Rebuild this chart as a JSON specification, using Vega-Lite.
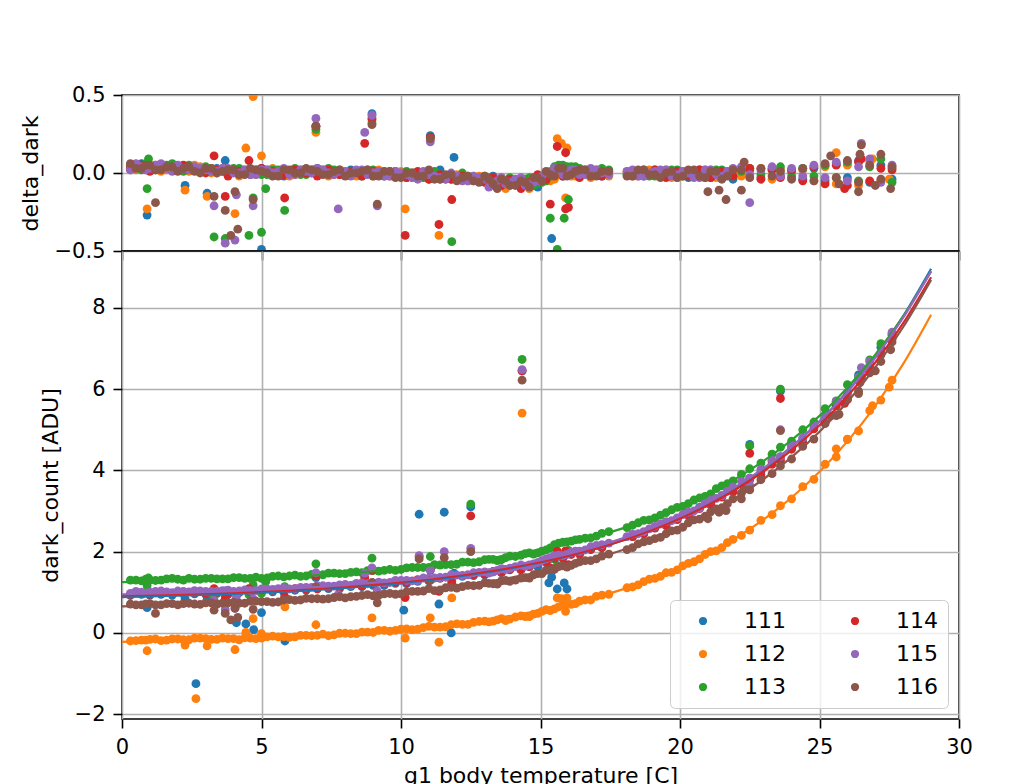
{
"$schema": "https://vega.github.io/schema/vega-lite/v6.json",
"background": "white",
"padding": {"left": 18, "top": 83, "right": 10, "bottom": 0},
"datasets": {
"pts": [
{"s":"111","t":0.3,"d":0.92,"r":0.04},{"s":"111","t":0.7,"d":0.95,"r":0.06},{"s":"111","t":1.0,"d":0.93,"r":0.03},{"s":"111","t":1.4,"d":0.95,"r":0.05},{"s":"111","t":1.8,"d":0.93,"r":0.02},{"s":"111","t":2.2,"d":0.96,"r":0.04},{"s":"111","t":2.6,"d":0.96,"r":0.03},{"s":"111","t":3.0,"d":0.95,"r":0.01},{"s":"111","t":3.4,"d":0.97,"r":0.03},{"s":"111","t":3.8,"d":0.95,"r":0.0},{"s":"111","t":4.2,"d":0.99,"r":0.02},{"s":"111","t":4.6,"d":0.97,"r":-0.01},{"s":"111","t":5.0,"d":1.02,"r":0.03},{"s":"111","t":5.4,"d":1.01,"r":0.01},{"s":"111","t":5.8,"d":1.0,"r":-0.02},{"s":"111","t":6.2,"d":1.05,"r":0.02},{"s":"111","t":6.6,"d":1.05,"r":0.0},{"s":"111","t":7.0,"d":1.09,"r":0.03},{"s":"111","t":7.4,"d":1.09,"r":0.01},{"s":"111","t":7.8,"d":1.09,"r":-0.01},{"s":"111","t":8.2,"d":1.14,"r":0.02},{"s":"111","t":8.6,"d":1.14,"r":0.0},{"s":"111","t":9.0,"d":1.17,"r":0.01},{"s":"111","t":9.4,"d":1.17,"r":-0.02},{"s":"111","t":9.8,"d":1.22,"r":0.01},{"s":"111","t":10.2,"d":1.21,"r":-0.03},{"s":"111","t":10.6,"d":1.27,"r":0.0},{"s":"111","t":11.0,"d":1.28,"r":-0.02},{"s":"111","t":11.4,"d":1.35,"r":0.02},{"s":"111","t":11.8,"d":1.33,"r":-0.04},{"s":"111","t":12.2,"d":1.39,"r":-0.01},{"s":"111","t":12.6,"d":1.41,"r":-0.03},{"s":"111","t":13.0,"d":1.43,"r":-0.05},{"s":"111","t":13.3,"d":1.5,"r":-0.02},{"s":"111","t":13.6,"d":1.48,"r":-0.07},{"s":"111","t":13.9,"d":1.55,"r":-0.04},{"s":"111","t":14.3,"d":1.56,"r":-0.08},{"s":"111","t":14.6,"d":1.63,"r":-0.05},{"s":"111","t":14.9,"d":1.63,"r":-0.09},{"s":"111","t":15.2,"d":1.73,"r":-0.03},{"s":"111","t":15.5,"d":1.82,"r":0.01},{"s":"111","t":15.8,"d":1.84,"r":-0.02},{"s":"111","t":16.1,"d":1.94,"r":0.03},{"s":"111","t":16.4,"d":1.95,"r":-0.01},{"s":"111","t":16.8,"d":2.06,"r":0.02},{"s":"111","t":17.2,"d":2.1,"r":-0.02},{"s":"111","t":18.3,"d":2.37,"r":0.01},{"s":"111","t":18.7,"d":2.44,"r":-0.02},{"s":"111","t":19.1,"d":2.59,"r":0.02},{"s":"111","t":19.5,"d":2.67,"r":-0.01},{"s":"111","t":19.9,"d":2.8,"r":0.0},{"s":"111","t":20.3,"d":2.9,"r":-0.03},{"s":"111","t":20.7,"d":3.09,"r":0.02},{"s":"111","t":21.1,"d":3.19,"r":-0.02},{"s":"111","t":21.5,"d":3.38,"r":0.01},{"s":"111","t":21.9,"d":3.49,"r":-0.04},{"s":"111","t":22.5,"d":3.81,"r":0.02},{"s":"111","t":22.9,"d":3.96,"r":-0.03},{"s":"111","t":23.3,"d":4.22,"r":0.03},{"s":"111","t":23.6,"d":4.33,"r":-0.02},{"s":"111","t":24.0,"d":4.58,"r":0.01},{"s":"111","t":24.4,"d":4.77,"r":-0.04},{"s":"111","t":24.8,"d":5.1,"r":0.03},{"s":"111","t":25.2,"d":5.29,"r":-0.05},{"s":"111","t":25.6,"d":5.69,"r":0.06},{"s":"111","t":26.0,"d":5.91,"r":-0.03},{"s":"111","t":26.4,"d":6.35,"r":0.08},{"s":"111","t":26.8,"d":6.56,"r":-0.06},{"s":"111","t":27.2,"d":7.03,"r":0.05},{"s":"111","t":27.6,"d":7.34,"r":-0.04},
{"s":"111","t":0.9,"d":0.62,"r":-0.27},{"s":"111","t":2.26,"d":0.84,"r":-0.08},{"s":"111","t":2.65,"d":-1.25,"r":-2.18},{"s":"111","t":3.05,"d":0.81,"r":-0.13},{"s":"111","t":3.7,"d":1.03,"r":0.08},{"s":"111","t":4.1,"d":0.25,"r":-0.72},{"s":"111","t":4.44,"d":0.22,"r":-0.75},{"s":"111","t":4.72,"d":0.08,"r":-0.9},{"s":"111","t":5.0,"d":0.5,"r":-0.49},{"s":"111","t":5.84,"d":-0.2,"r":-1.22},{"s":"111","t":6.95,"d":1.36,"r":0.3},{"s":"111","t":8.96,"d":1.54,"r":0.38},{"s":"111","t":10.1,"d":0.56,"r":-0.68},{"s":"111","t":10.65,"d":2.92,"r":1.65},{"s":"111","t":11.05,"d":1.54,"r":0.24},{"s":"111","t":11.36,"d":0.71,"r":-0.62},{"s":"111","t":11.55,"d":2.97,"r":1.62},{"s":"111","t":11.8,"d":0.0,"r":-1.36},{"s":"111","t":11.9,"d":1.47,"r":0.1},{"s":"111","t":12.5,"d":3.1,"r":1.68},{"s":"111","t":14.34,"d":6.45,"r":4.8},{"s":"111","t":15.3,"d":1.23,"r":-0.55},{"s":"111","t":15.4,"d":1.37,"r":-0.42},{"s":"111","t":15.6,"d":1.08,"r":-0.76},{"s":"111","t":15.85,"d":1.23,"r":-0.63},{"s":"111","t":15.95,"d":1.08,"r":-0.8},{"s":"111","t":22.5,"d":4.64,"r":0.85},{"s":"111","t":23.6,"d":5.95,"r":1.6},
{"s":"112","t":0.3,"d":-0.2,"r":0.02},{"s":"112","t":0.7,"d":-0.18,"r":0.03},{"s":"112","t":1.0,"d":-0.16,"r":0.05},{"s":"112","t":1.4,"d":-0.19,"r":0.01},{"s":"112","t":1.8,"d":-0.15,"r":0.04},{"s":"112","t":2.2,"d":-0.17,"r":0.02},{"s":"112","t":2.6,"d":-0.13,"r":0.05},{"s":"112","t":3.0,"d":-0.14,"r":0.03},{"s":"112","t":3.4,"d":-0.16,"r":0.0},{"s":"112","t":3.8,"d":-0.14,"r":0.02},{"s":"112","t":4.2,"d":-0.17,"r":-0.02},{"s":"112","t":4.6,"d":-0.13,"r":0.01},{"s":"112","t":5.0,"d":-0.13,"r":0.0},{"s":"112","t":5.4,"d":-0.08,"r":0.03},{"s":"112","t":5.8,"d":-0.09,"r":0.01},{"s":"112","t":6.2,"d":-0.1,"r":-0.01},{"s":"112","t":6.6,"d":-0.06,"r":0.02},{"s":"112","t":7.0,"d":-0.06,"r":0.0},{"s":"112","t":7.4,"d":-0.07,"r":-0.02},{"s":"112","t":7.8,"d":-0.01,"r":0.02},{"s":"112","t":8.2,"d":-0.02,"r":-0.01},{"s":"112","t":8.6,"d":0.02,"r":0.01},{"s":"112","t":9.0,"d":0.01,"r":-0.02},{"s":"112","t":9.4,"d":0.06,"r":0.01},{"s":"112","t":9.8,"d":0.06,"r":-0.01},{"s":"112","t":10.2,"d":0.1,"r":0.0},{"s":"112","t":10.6,"d":0.09,"r":-0.03},{"s":"112","t":11.0,"d":0.16,"r":0.01},{"s":"112","t":11.4,"d":0.14,"r":-0.04},{"s":"112","t":11.8,"d":0.2,"r":-0.01},{"s":"112","t":12.2,"d":0.21,"r":-0.04},{"s":"112","t":12.6,"d":0.26,"r":-0.02},{"s":"112","t":13.0,"d":0.29,"r":-0.03},{"s":"112","t":13.3,"d":0.29,"r":-0.06},{"s":"112","t":13.6,"d":0.35,"r":-0.03},{"s":"112","t":13.9,"d":0.34,"r":-0.08},{"s":"112","t":14.3,"d":0.42,"r":-0.04},{"s":"112","t":14.6,"d":0.4,"r":-0.1},{"s":"112","t":14.9,"d":0.48,"r":-0.06},{"s":"112","t":15.2,"d":0.57,"r":-0.01},{"s":"112","t":15.5,"d":0.59,"r":-0.04},{"s":"112","t":15.8,"d":0.69,"r":0.02},{"s":"112","t":16.1,"d":0.7,"r":-0.02},{"s":"112","t":16.4,"d":0.78,"r":0.01},{"s":"112","t":16.8,"d":0.81,"r":-0.03},{"s":"112","t":17.2,"d":0.93,"r":0.01},{"s":"112","t":18.3,"d":1.13,"r":-0.02},{"s":"112","t":18.7,"d":1.26,"r":0.01},{"s":"112","t":19.1,"d":1.34,"r":-0.01},{"s":"112","t":19.5,"d":1.48,"r":0.02},{"s":"112","t":19.9,"d":1.55,"r":-0.03},{"s":"112","t":20.3,"d":1.71,"r":0.01},{"s":"112","t":20.7,"d":1.82,"r":-0.02},{"s":"112","t":21.1,"d":2.0,"r":0.02},{"s":"112","t":21.5,"d":2.1,"r":-0.03},{"s":"112","t":21.9,"d":2.3,"r":0.01},{"s":"112","t":22.5,"d":2.53,"r":-0.02},{"s":"112","t":22.9,"d":2.77,"r":0.03},{"s":"112","t":23.3,"d":2.91,"r":-0.04},{"s":"112","t":23.6,"d":3.13,"r":0.02},{"s":"112","t":24.0,"d":3.3,"r":-0.03},{"s":"112","t":24.4,"d":3.6,"r":0.02},{"s":"112","t":24.8,"d":3.78,"r":-0.05},{"s":"112","t":25.2,"d":4.15,"r":0.04},{"s":"112","t":25.6,"d":4.33,"r":-0.07},{"s":"112","t":26.0,"d":4.76,"r":0.05},{"s":"112","t":26.4,"d":4.97,"r":-0.08},{"s":"112","t":26.8,"d":5.47,"r":0.07},{"s":"112","t":27.2,"d":5.73,"r":-0.05},{"s":"112","t":27.6,"d":6.22,"r":0.03},
{"s":"112","t":0.5,"d":-0.19,"r":0.02},{"s":"112","t":0.85,"d":-0.18,"r":0.03},{"s":"112","t":1.2,"d":-0.15,"r":0.05},{"s":"112","t":1.6,"d":-0.18,"r":0.02},{"s":"112","t":2.0,"d":-0.15,"r":0.04},{"s":"112","t":2.4,"d":-0.17,"r":0.01},{"s":"112","t":2.8,"d":-0.13,"r":0.04},{"s":"112","t":3.2,"d":-0.16,"r":0.0},{"s":"112","t":3.6,"d":-0.13,"r":0.03},{"s":"112","t":4.0,"d":-0.14,"r":0.01},{"s":"112","t":4.4,"d":-0.12,"r":0.02},{"s":"112","t":4.8,"d":-0.14,"r":-0.01},{"s":"112","t":5.2,"d":-0.1,"r":0.02},{"s":"112","t":5.6,"d":-0.1,"r":0.0},{"s":"112","t":6.0,"d":-0.11,"r":-0.02},{"s":"112","t":6.4,"d":-0.06,"r":0.02},{"s":"112","t":6.8,"d":-0.07,"r":0.0},{"s":"112","t":7.2,"d":-0.03,"r":0.02},{"s":"112","t":7.6,"d":-0.05,"r":-0.01},{"s":"112","t":8.0,"d":-0.01,"r":0.01},{"s":"112","t":8.4,"d":-0.02,"r":-0.02},{"s":"112","t":8.8,"d":0.02,"r":0.0},{"s":"112","t":9.2,"d":0.06,"r":0.02},{"s":"112","t":9.6,"d":0.04,"r":-0.02},{"s":"112","t":10.0,"d":0.09,"r":0.01},{"s":"112","t":10.4,"d":0.08,"r":-0.03},{"s":"112","t":10.8,"d":0.13,"r":0.0},{"s":"112","t":11.2,"d":0.14,"r":-0.02},{"s":"112","t":11.6,"d":0.15,"r":-0.04},{"s":"112","t":12.0,"d":0.22,"r":-0.01},{"s":"112","t":12.4,"d":0.21,"r":-0.05},{"s":"112","t":12.8,"d":0.28,"r":-0.02},{"s":"112","t":13.15,"d":0.27,"r":-0.06},{"s":"112","t":13.45,"d":0.32,"r":-0.04},{"s":"112","t":13.75,"d":0.3,"r":-0.1},{"s":"112","t":14.1,"d":0.39,"r":-0.05},{"s":"112","t":14.45,"d":0.4,"r":-0.08},{"s":"112","t":14.75,"d":0.46,"r":-0.06},{"s":"112","t":15.05,"d":0.53,"r":-0.03},{"s":"112","t":15.35,"d":0.55,"r":-0.05},{"s":"112","t":15.65,"d":0.64,"r":-0.01},{"s":"112","t":15.95,"d":0.72,"r":0.03},{"s":"112","t":16.25,"d":0.72,"r":-0.02},{"s":"112","t":16.6,"d":0.81,"r":0.01},{"s":"112","t":17.0,"d":0.9,"r":0.02},{"s":"112","t":17.45,"d":0.95,"r":-0.02},{"s":"112","t":18.1,"d":1.11,"r":0.01},{"s":"112","t":18.5,"d":1.18,"r":-0.02},{"s":"112","t":18.9,"d":1.32,"r":0.02},{"s":"112","t":19.3,"d":1.39,"r":-0.01},{"s":"112","t":19.7,"d":1.49,"r":-0.03},{"s":"112","t":20.1,"d":1.65,"r":0.01},{"s":"112","t":20.5,"d":1.75,"r":-0.02},{"s":"112","t":20.9,"d":1.93,"r":0.02},{"s":"112","t":21.3,"d":2.02,"r":-0.03},{"s":"112","t":21.7,"d":2.22,"r":0.01},{"s":"112","t":22.2,"d":2.4,"r":-0.02},
{"s":"112","t":0.9,"d":-0.44,"r":-0.23},{"s":"112","t":2.26,"d":-0.3,"r":-0.11},{"s":"112","t":2.65,"d":-1.62,"r":-1.44},{"s":"112","t":3.05,"d":-0.32,"r":-0.15},{"s":"112","t":4.05,"d":-0.41,"r":-0.26},{"s":"112","t":4.44,"d":0.01,"r":0.16},{"s":"112","t":4.7,"d":0.35,"r":0.49},{"s":"112","t":5.0,"d":-0.02,"r":0.11},{"s":"112","t":5.84,"d":0.64,"r":0.74},{"s":"112","t":6.95,"d":0.2,"r":0.26},{"s":"112","t":8.96,"d":0.37,"r":0.34},{"s":"112","t":10.15,"d":-0.13,"r":-0.23},{"s":"112","t":11.05,"d":0.37,"r":0.22},{"s":"112","t":11.36,"d":-0.23,"r":-0.4},{"s":"112","t":11.82,"d":0.86,"r":0.65},{"s":"112","t":14.34,"d":5.41,"r":4.95},{"s":"112","t":15.6,"d":0.86,"r":0.22},{"s":"112","t":15.75,"d":0.84,"r":0.19},{"s":"112","t":15.95,"d":0.86,"r":0.16},{"s":"112","t":15.9,"d":0.53,"r":-0.16},{"s":"112","t":25.6,"d":4.53,"r":0.13},{"s":"112","t":26.0,"d":4.77,"r":0.06},{"s":"112","t":26.9,"d":5.59,"r":0.09},{"s":"112","t":27.5,"d":6.05,"r":-0.04},
{"s":"113","t":0.3,"d":1.3,"r":0.05},{"s":"113","t":0.7,"d":1.28,"r":0.02},{"s":"113","t":1.0,"d":1.3,"r":0.04},{"s":"113","t":1.4,"d":1.3,"r":0.03},{"s":"113","t":1.8,"d":1.34,"r":0.06},{"s":"113","t":2.2,"d":1.3,"r":0.01},{"s":"113","t":2.6,"d":1.32,"r":0.03},{"s":"113","t":3.0,"d":1.34,"r":0.04},{"s":"113","t":3.4,"d":1.33,"r":0.02},{"s":"113","t":3.8,"d":1.33,"r":0.01},{"s":"113","t":4.2,"d":1.36,"r":0.03},{"s":"113","t":4.6,"d":1.34,"r":0.0},{"s":"113","t":5.0,"d":1.34,"r":-0.01},{"s":"113","t":5.4,"d":1.39,"r":0.02},{"s":"113","t":5.8,"d":1.38,"r":0.0},{"s":"113","t":6.2,"d":1.42,"r":0.03},{"s":"113","t":6.6,"d":1.4,"r":-0.01},{"s":"113","t":7.0,"d":1.43,"r":0.01},{"s":"113","t":7.4,"d":1.47,"r":0.03},{"s":"113","t":7.8,"d":1.46,"r":0.0},{"s":"113","t":8.2,"d":1.49,"r":0.01},{"s":"113","t":8.6,"d":1.48,"r":-0.02},{"s":"113","t":9.0,"d":1.54,"r":0.02},{"s":"113","t":9.4,"d":1.54,"r":0.0},{"s":"113","t":9.8,"d":1.54,"r":-0.02},{"s":"113","t":10.2,"d":1.6,"r":0.01},{"s":"113","t":10.6,"d":1.61,"r":-0.01},{"s":"113","t":11.0,"d":1.61,"r":-0.04},{"s":"113","t":11.4,"d":1.67,"r":-0.01},{"s":"113","t":11.8,"d":1.68,"r":-0.03},{"s":"113","t":12.2,"d":1.74,"r":0.0},{"s":"113","t":12.6,"d":1.73,"r":-0.05},{"s":"113","t":13.0,"d":1.8,"r":-0.02},{"s":"113","t":13.3,"d":1.81,"r":-0.04},{"s":"113","t":13.6,"d":1.8,"r":-0.08},{"s":"113","t":13.9,"d":1.89,"r":-0.03},{"s":"113","t":14.3,"d":1.91,"r":-0.06},{"s":"113","t":14.6,"d":1.97,"r":-0.03},{"s":"113","t":14.9,"d":1.97,"r":-0.07},{"s":"113","t":15.2,"d":2.04,"r":-0.05},{"s":"113","t":15.5,"d":2.17,"r":0.04},{"s":"113","t":15.8,"d":2.23,"r":0.05},{"s":"113","t":16.1,"d":2.26,"r":0.04},{"s":"113","t":16.4,"d":2.3,"r":0.03},{"s":"113","t":16.8,"d":2.34,"r":-0.01},{"s":"113","t":17.2,"d":2.45,"r":0.03},{"s":"113","t":18.3,"d":2.65,"r":0.0},{"s":"113","t":18.7,"d":2.77,"r":0.02},{"s":"113","t":19.1,"d":2.83,"r":-0.02},{"s":"113","t":19.5,"d":2.96,"r":0.01},{"s":"113","t":19.9,"d":3.09,"r":0.02},{"s":"113","t":20.3,"d":3.18,"r":-0.01},{"s":"113","t":20.7,"d":3.32,"r":0.0},{"s":"113","t":21.1,"d":3.42,"r":-0.03},{"s":"113","t":21.5,"d":3.62,"r":0.02},{"s":"113","t":21.9,"d":3.74,"r":-0.02},{"s":"113","t":22.5,"d":4.04,"r":0.03},{"s":"113","t":22.9,"d":4.18,"r":-0.01},{"s":"113","t":23.3,"d":4.4,"r":0.02},{"s":"113","t":23.6,"d":4.57,"r":0.04},{"s":"113","t":24.0,"d":4.72,"r":-0.02},{"s":"113","t":24.4,"d":5.0,"r":0.03},{"s":"113","t":24.8,"d":5.19,"r":-0.02},{"s":"113","t":25.2,"d":5.52,"r":0.05},{"s":"113","t":25.6,"d":5.71,"r":-0.03},{"s":"113","t":26.0,"d":6.11,"r":0.07},{"s":"113","t":26.4,"d":6.3,"r":-0.05},{"s":"113","t":26.8,"d":6.72,"r":0.04},{"s":"113","t":27.2,"d":7.12,"r":0.09},{"s":"113","t":27.6,"d":7.34,"r":-0.06},
{"s":"113","t":0.5,"d":1.3,"r":0.04},{"s":"113","t":0.85,"d":1.32,"r":0.06},{"s":"113","t":1.2,"d":1.29,"r":0.02},{"s":"113","t":1.6,"d":1.33,"r":0.05},{"s":"113","t":2.0,"d":1.32,"r":0.03},{"s":"113","t":2.4,"d":1.34,"r":0.05},{"s":"113","t":2.8,"d":1.32,"r":0.02},{"s":"113","t":3.2,"d":1.34,"r":0.03},{"s":"113","t":3.6,"d":1.33,"r":0.01},{"s":"113","t":4.0,"d":1.36,"r":0.03},{"s":"113","t":4.4,"d":1.34,"r":0.0},{"s":"113","t":4.8,"d":1.37,"r":0.02},{"s":"113","t":5.2,"d":1.35,"r":-0.01},{"s":"113","t":5.6,"d":1.4,"r":0.02},{"s":"113","t":6.0,"d":1.4,"r":0.01},{"s":"113","t":6.4,"d":1.39,"r":-0.01},{"s":"113","t":6.8,"d":1.44,"r":0.02},{"s":"113","t":7.2,"d":1.43,"r":0.0},{"s":"113","t":7.6,"d":1.47,"r":0.02},{"s":"113","t":8.0,"d":1.46,"r":-0.01},{"s":"113","t":8.4,"d":1.5,"r":0.01},{"s":"113","t":8.8,"d":1.53,"r":0.02},{"s":"113","t":9.2,"d":1.52,"r":-0.01},{"s":"113","t":9.6,"d":1.56,"r":0.01},{"s":"113","t":10.0,"d":1.56,"r":-0.02},{"s":"113","t":10.4,"d":1.61,"r":0.0},{"s":"113","t":10.8,"d":1.61,"r":-0.03},{"s":"113","t":11.2,"d":1.68,"r":0.01},{"s":"113","t":11.6,"d":1.68,"r":-0.02},{"s":"113","t":12.0,"d":1.69,"r":-0.04},{"s":"113","t":12.4,"d":1.74,"r":-0.02},{"s":"113","t":12.8,"d":1.75,"r":-0.05},{"s":"113","t":13.15,"d":1.81,"r":-0.03},{"s":"113","t":13.45,"d":1.78,"r":-0.09},{"s":"113","t":13.75,"d":1.85,"r":-0.05},{"s":"113","t":14.1,"d":1.88,"r":-0.07},{"s":"113","t":14.45,"d":1.95,"r":-0.04},{"s":"113","t":14.75,"d":1.94,"r":-0.08},{"s":"113","t":15.05,"d":2.01,"r":-0.06},{"s":"113","t":15.35,"d":2.09,"r":-0.02},{"s":"113","t":15.65,"d":2.21,"r":0.05},{"s":"113","t":15.95,"d":2.24,"r":0.04},{"s":"113","t":16.25,"d":2.29,"r":0.04},{"s":"113","t":16.6,"d":2.33,"r":0.02},{"s":"113","t":17.0,"d":2.38,"r":-0.01},{"s":"113","t":17.45,"d":2.49,"r":0.02},{"s":"113","t":18.1,"d":2.59,"r":-0.01},{"s":"113","t":18.5,"d":2.71,"r":0.01},{"s":"113","t":18.9,"d":2.78,"r":-0.02},{"s":"113","t":19.3,"d":2.9,"r":0.0},{"s":"113","t":19.7,"d":3.03,"r":0.02},{"s":"113","t":20.1,"d":3.11,"r":-0.02},{"s":"113","t":20.5,"d":3.27,"r":0.01},{"s":"113","t":20.9,"d":3.36,"r":-0.03},{"s":"113","t":21.3,"d":3.55,"r":0.02},{"s":"113","t":21.7,"d":3.67,"r":-0.01},{"s":"113","t":22.2,"d":3.9,"r":0.01},
{"s":"113","t":0.9,"d":1.16,"r":-0.1},{"s":"113","t":0.95,"d":1.35,"r":0.09},{"s":"113","t":3.3,"d":0.9,"r":-0.41},{"s":"113","t":3.7,"d":0.9,"r":-0.42},{"s":"113","t":4.55,"d":0.94,"r":-0.4},{"s":"113","t":4.7,"d":1.18,"r":-0.16},{"s":"113","t":5.0,"d":0.97,"r":-0.38},{"s":"113","t":5.15,"d":1.26,"r":-0.1},{"s":"113","t":5.83,"d":1.14,"r":-0.24},{"s":"113","t":6.95,"d":1.7,"r":0.28},{"s":"113","t":8.96,"d":1.84,"r":0.32},{"s":"113","t":11.05,"d":1.88,"r":0.23},{"s":"113","t":11.82,"d":1.27,"r":-0.44},{"s":"113","t":12.5,"d":3.17,"r":1.4},{"s":"113","t":14.34,"d":6.73,"r":4.76},{"s":"113","t":15.35,"d":1.82,"r":-0.29},{"s":"113","t":15.6,"d":1.66,"r":-0.49},{"s":"113","t":15.85,"d":1.89,"r":-0.29},{"s":"113","t":16.0,"d":2.03,"r":-0.17},{"s":"113","t":22.5,"d":4.6,"r":0.59},{"s":"113","t":23.6,"d":6.0,"r":1.47},
{"s":"114","t":0.3,"d":0.95,"r":0.03},{"s":"114","t":0.7,"d":0.98,"r":0.05},{"s":"114","t":1.0,"d":0.95,"r":0.01},{"s":"114","t":1.4,"d":0.98,"r":0.04},{"s":"114","t":1.8,"d":0.97,"r":0.02},{"s":"114","t":2.2,"d":1.01,"r":0.05},{"s":"114","t":2.6,"d":1.0,"r":0.03},{"s":"114","t":3.0,"d":0.97,"r":0.0},{"s":"114","t":3.4,"d":1.0,"r":0.02},{"s":"114","t":3.8,"d":0.97,"r":-0.02},{"s":"114","t":4.2,"d":1.01,"r":0.01},{"s":"114","t":4.6,"d":1.01,"r":0.0},{"s":"114","t":5.0,"d":1.06,"r":0.03},{"s":"114","t":5.4,"d":1.05,"r":0.01},{"s":"114","t":5.8,"d":1.04,"r":-0.01},{"s":"114","t":6.2,"d":1.09,"r":0.02},{"s":"114","t":6.6,"d":1.08,"r":0.0},{"s":"114","t":7.0,"d":1.08,"r":-0.02},{"s":"114","t":7.4,"d":1.13,"r":0.02},{"s":"114","t":7.8,"d":1.12,"r":-0.01},{"s":"114","t":8.2,"d":1.16,"r":0.01},{"s":"114","t":8.6,"d":1.15,"r":-0.02},{"s":"114","t":9.0,"d":1.2,"r":0.01},{"s":"114","t":9.4,"d":1.21,"r":-0.01},{"s":"114","t":9.8,"d":1.24,"r":0.0},{"s":"114","t":10.2,"d":1.24,"r":-0.03},{"s":"114","t":10.6,"d":1.31,"r":0.01},{"s":"114","t":11.0,"d":1.29,"r":-0.04},{"s":"114","t":11.4,"d":1.35,"r":-0.01},{"s":"114","t":11.8,"d":1.35,"r":-0.04},{"s":"114","t":12.2,"d":1.41,"r":-0.02},{"s":"114","t":12.6,"d":1.43,"r":-0.03},{"s":"114","t":13.0,"d":1.44,"r":-0.06},{"s":"114","t":13.3,"d":1.51,"r":-0.03},{"s":"114","t":13.6,"d":1.49,"r":-0.08},{"s":"114","t":13.9,"d":1.57,"r":-0.04},{"s":"114","t":14.3,"d":1.55,"r":-0.1},{"s":"114","t":14.6,"d":1.63,"r":-0.06},{"s":"114","t":14.9,"d":1.72,"r":-0.01},{"s":"114","t":15.2,"d":1.74,"r":-0.04},{"s":"114","t":15.5,"d":1.84,"r":0.02},{"s":"114","t":15.8,"d":1.85,"r":-0.02},{"s":"114","t":16.1,"d":1.93,"r":0.01},{"s":"114","t":16.4,"d":1.94,"r":-0.03},{"s":"114","t":16.8,"d":2.05,"r":0.01},{"s":"114","t":17.2,"d":2.1,"r":-0.02},{"s":"114","t":18.3,"d":2.37,"r":0.01},{"s":"114","t":18.7,"d":2.44,"r":-0.01},{"s":"114","t":19.1,"d":2.58,"r":0.02},{"s":"114","t":19.5,"d":2.64,"r":-0.03},{"s":"114","t":19.9,"d":2.79,"r":0.01},{"s":"114","t":20.3,"d":2.89,"r":-0.02},{"s":"114","t":20.7,"d":3.06,"r":0.02},{"s":"114","t":21.1,"d":3.15,"r":-0.03},{"s":"114","t":21.5,"d":3.34,"r":0.01},{"s":"114","t":21.9,"d":3.47,"r":-0.02},{"s":"114","t":22.5,"d":3.77,"r":0.03},{"s":"114","t":22.9,"d":3.89,"r":-0.04},{"s":"114","t":23.3,"d":4.15,"r":0.02},{"s":"114","t":23.6,"d":4.25,"r":-0.03},{"s":"114","t":24.0,"d":4.52,"r":0.02},{"s":"114","t":24.4,"d":4.68,"r":-0.05},{"s":"114","t":24.8,"d":5.02,"r":0.04},{"s":"114","t":25.2,"d":5.18,"r":-0.07},{"s":"114","t":25.6,"d":5.58,"r":0.05},{"s":"114","t":26.0,"d":5.74,"r":-0.08},{"s":"114","t":26.4,"d":6.21,"r":0.07},{"s":"114","t":26.8,"d":6.43,"r":-0.05},{"s":"114","t":27.2,"d":6.87,"r":0.03},{"s":"114","t":27.6,"d":7.24,"r":0.02},
{"s":"114","t":3.3,"d":1.09,"r":0.11},{"s":"114","t":3.7,"d":0.84,"r":-0.15},{"s":"114","t":4.55,"d":1.09,"r":0.08},{"s":"114","t":5.83,"d":0.89,"r":-0.16},{"s":"114","t":6.95,"d":1.4,"r":0.3},{"s":"114","t":8.7,"d":1.36,"r":0.19},{"s":"114","t":8.96,"d":1.54,"r":0.35},{"s":"114","t":10.15,"d":0.87,"r":-0.4},{"s":"114","t":10.65,"d":1.88,"r":0.58},{"s":"114","t":11.05,"d":1.56,"r":0.23},{"s":"114","t":11.36,"d":1.02,"r":-0.33},{"s":"114","t":11.82,"d":1.22,"r":-0.17},{"s":"114","t":12.5,"d":2.88,"r":1.42},{"s":"114","t":14.34,"d":6.45,"r":4.8},{"s":"114","t":15.35,"d":1.6,"r":-0.2},{"s":"114","t":15.6,"d":2.01,"r":0.17},{"s":"114","t":15.9,"d":2.02,"r":0.13},{"s":"114","t":15.9,"d":1.66,"r":-0.23},{"s":"114","t":16.0,"d":1.68,"r":-0.22},{"s":"114","t":22.5,"d":4.42,"r":0.68},{"s":"114","t":23.6,"d":5.77,"r":1.49},{"s":"114","t":25.9,"d":5.65,"r":-0.1},{"s":"114","t":26.5,"d":6.31,"r":0.09},
{"s":"115","t":0.3,"d":0.97,"r":0.02},{"s":"115","t":0.7,"d":1.0,"r":0.04},{"s":"115","t":1.0,"d":1.0,"r":0.03},{"s":"115","t":1.4,"d":1.03,"r":0.06},{"s":"115","t":1.8,"d":0.99,"r":0.01},{"s":"115","t":2.2,"d":1.02,"r":0.03},{"s":"115","t":2.6,"d":1.04,"r":0.04},{"s":"115","t":3.0,"d":1.02,"r":0.02},{"s":"115","t":3.4,"d":1.02,"r":0.01},{"s":"115","t":3.8,"d":1.05,"r":0.03},{"s":"115","t":4.2,"d":1.03,"r":0.0},{"s":"115","t":4.6,"d":1.04,"r":-0.01},{"s":"115","t":5.0,"d":1.08,"r":0.02},{"s":"115","t":5.4,"d":1.07,"r":0.0},{"s":"115","t":5.8,"d":1.11,"r":0.03},{"s":"115","t":6.2,"d":1.09,"r":-0.01},{"s":"115","t":6.6,"d":1.12,"r":0.01},{"s":"115","t":7.0,"d":1.16,"r":0.03},{"s":"115","t":7.4,"d":1.15,"r":0.0},{"s":"115","t":7.8,"d":1.18,"r":0.01},{"s":"115","t":8.2,"d":1.17,"r":-0.02},{"s":"115","t":8.6,"d":1.23,"r":0.02},{"s":"115","t":9.0,"d":1.23,"r":0.0},{"s":"115","t":9.4,"d":1.23,"r":-0.02},{"s":"115","t":9.8,"d":1.29,"r":0.01},{"s":"115","t":10.2,"d":1.29,"r":-0.01},{"s":"115","t":10.6,"d":1.29,"r":-0.04},{"s":"115","t":11.0,"d":1.35,"r":-0.01},{"s":"115","t":11.4,"d":1.36,"r":-0.03},{"s":"115","t":11.8,"d":1.43,"r":0.0},{"s":"115","t":12.2,"d":1.41,"r":-0.05},{"s":"115","t":12.6,"d":1.48,"r":-0.02},{"s":"115","t":13.0,"d":1.5,"r":-0.04},{"s":"115","t":13.3,"d":1.5,"r":-0.08},{"s":"115","t":13.6,"d":1.58,"r":-0.03},{"s":"115","t":13.9,"d":1.59,"r":-0.06},{"s":"115","t":14.3,"d":1.67,"r":-0.03},{"s":"115","t":14.6,"d":1.67,"r":-0.07},{"s":"115","t":14.9,"d":1.73,"r":-0.05},{"s":"115","t":15.2,"d":1.82,"r":0.0},{"s":"115","t":15.5,"d":1.9,"r":0.03},{"s":"115","t":15.8,"d":1.9,"r":-0.01},{"s":"115","t":16.1,"d":1.98,"r":0.02},{"s":"115","t":16.4,"d":2.01,"r":-0.01},{"s":"115","t":16.8,"d":2.12,"r":0.03},{"s":"115","t":17.2,"d":2.17,"r":0.0},{"s":"115","t":18.3,"d":2.43,"r":0.02},{"s":"115","t":18.7,"d":2.49,"r":-0.02},{"s":"115","t":19.1,"d":2.62,"r":0.01},{"s":"115","t":19.5,"d":2.74,"r":0.02},{"s":"115","t":19.9,"d":2.83,"r":-0.01},{"s":"115","t":20.3,"d":2.97,"r":0.0},{"s":"115","t":20.7,"d":3.07,"r":-0.03},{"s":"115","t":21.1,"d":3.26,"r":0.02},{"s":"115","t":21.5,"d":3.38,"r":-0.02},{"s":"115","t":21.9,"d":3.59,"r":0.03},{"s":"115","t":22.5,"d":3.81,"r":-0.01},{"s":"115","t":22.9,"d":4.03,"r":0.02},{"s":"115","t":23.3,"d":4.25,"r":0.04},{"s":"115","t":23.6,"d":4.34,"r":-0.02},{"s":"115","t":24.0,"d":4.62,"r":0.03},{"s":"115","t":24.4,"d":4.8,"r":-0.02},{"s":"115","t":24.8,"d":5.12,"r":0.05},{"s":"115","t":25.2,"d":5.31,"r":-0.03},{"s":"115","t":25.6,"d":5.7,"r":0.07},{"s":"115","t":26.0,"d":5.88,"r":-0.05},{"s":"115","t":26.4,"d":6.29,"r":0.04},{"s":"115","t":26.8,"d":6.68,"r":0.09},{"s":"115","t":27.2,"d":6.9,"r":-0.06},{"s":"115","t":27.6,"d":7.4,"r":0.05},
{"s":"115","t":0.5,"d":1.02,"r":0.06},{"s":"115","t":0.85,"d":0.98,"r":0.02},{"s":"115","t":1.2,"d":1.02,"r":0.05},{"s":"115","t":1.6,"d":1.01,"r":0.03},{"s":"115","t":2.0,"d":1.03,"r":0.05},{"s":"115","t":2.4,"d":1.01,"r":0.02},{"s":"115","t":2.8,"d":1.03,"r":0.03},{"s":"115","t":3.2,"d":1.02,"r":0.01},{"s":"115","t":3.6,"d":1.04,"r":0.03},{"s":"115","t":4.0,"d":1.02,"r":0.0},{"s":"115","t":4.4,"d":1.06,"r":0.02},{"s":"115","t":4.8,"d":1.04,"r":-0.01},{"s":"115","t":5.2,"d":1.08,"r":0.02},{"s":"115","t":5.6,"d":1.09,"r":0.01},{"s":"115","t":6.0,"d":1.08,"r":-0.01},{"s":"115","t":6.4,"d":1.12,"r":0.02},{"s":"115","t":6.8,"d":1.12,"r":0.0},{"s":"115","t":7.2,"d":1.16,"r":0.02},{"s":"115","t":7.6,"d":1.15,"r":-0.01},{"s":"115","t":8.0,"d":1.19,"r":0.01},{"s":"115","t":8.4,"d":1.22,"r":0.02},{"s":"115","t":8.8,"d":1.21,"r":-0.01},{"s":"115","t":9.2,"d":1.25,"r":0.01},{"s":"115","t":9.6,"d":1.24,"r":-0.02},{"s":"115","t":10.0,"d":1.29,"r":0.0},{"s":"115","t":10.4,"d":1.28,"r":-0.03},{"s":"115","t":10.8,"d":1.35,"r":0.01},{"s":"115","t":11.2,"d":1.35,"r":-0.02},{"s":"115","t":11.6,"d":1.37,"r":-0.04},{"s":"115","t":12.0,"d":1.42,"r":-0.02},{"s":"115","t":12.4,"d":1.43,"r":-0.05},{"s":"115","t":12.8,"d":1.49,"r":-0.03},{"s":"115","t":13.15,"d":1.47,"r":-0.09},{"s":"115","t":13.45,"d":1.54,"r":-0.05},{"s":"115","t":13.75,"d":1.56,"r":-0.07},{"s":"115","t":14.1,"d":1.63,"r":-0.04},{"s":"115","t":14.45,"d":1.64,"r":-0.08},{"s":"115","t":14.75,"d":1.7,"r":-0.06},{"s":"115","t":15.05,"d":1.78,"r":-0.02},{"s":"115","t":15.35,"d":1.85,"r":0.01},{"s":"115","t":15.65,"d":1.91,"r":0.02},{"s":"115","t":15.95,"d":1.93,"r":0.0},{"s":"115","t":16.25,"d":2.01,"r":0.02},{"s":"115","t":16.6,"d":2.04,"r":-0.01},{"s":"115","t":17.0,"d":2.15,"r":0.02},{"s":"115","t":17.45,"d":2.21,"r":-0.01},{"s":"115","t":18.1,"d":2.37,"r":0.01},{"s":"115","t":18.5,"d":2.44,"r":-0.02},{"s":"115","t":18.9,"d":2.56,"r":0.0},{"s":"115","t":19.3,"d":2.68,"r":0.02},{"s":"115","t":19.7,"d":2.76,"r":-0.02},{"s":"115","t":20.1,"d":2.91,"r":0.01},{"s":"115","t":20.5,"d":3.0,"r":-0.03},{"s":"115","t":20.9,"d":3.19,"r":0.02},{"s":"115","t":21.3,"d":3.31,"r":-0.01},{"s":"115","t":21.7,"d":3.49,"r":0.01},{"s":"115","t":22.2,"d":3.73,"r":0.04},
{"s":"115","t":3.3,"d":0.8,"r":-0.21},{"s":"115","t":3.7,"d":0.57,"r":-0.45},{"s":"115","t":4.05,"d":0.6,"r":-0.43},{"s":"115","t":4.1,"d":0.89,"r":-0.14},{"s":"115","t":4.7,"d":0.84,"r":-0.21},{"s":"115","t":6.95,"d":1.48,"r":0.35},{"s":"115","t":7.75,"d":0.94,"r":-0.23},{"s":"115","t":8.7,"d":1.47,"r":0.26},{"s":"115","t":8.96,"d":1.6,"r":0.37},{"s":"115","t":9.15,"d":1.03,"r":-0.21},{"s":"115","t":10.65,"d":1.9,"r":0.57},{"s":"115","t":11.05,"d":1.56,"r":0.2},{"s":"115","t":11.55,"d":2.0,"r":0.61},{"s":"115","t":12.5,"d":2.08,"r":0.59},{"s":"115","t":14.34,"d":6.48,"r":4.78},{"s":"115","t":22.5,"d":3.63,"r":-0.19},{"s":"115","t":23.6,"d":5.0,"r":0.64},{"s":"115","t":26.5,"d":6.53,"r":0.19},
{"s":"116","t":0.3,"d":0.71,"r":0.06},{"s":"116","t":0.7,"d":0.69,"r":0.03},{"s":"116","t":1.0,"d":0.72,"r":0.05},{"s":"116","t":1.4,"d":0.69,"r":0.02},{"s":"116","t":1.8,"d":0.72,"r":0.04},{"s":"116","t":2.2,"d":0.72,"r":0.03},{"s":"116","t":2.6,"d":0.71,"r":0.01},{"s":"116","t":3.0,"d":0.74,"r":0.03},{"s":"116","t":3.4,"d":0.71,"r":0.0},{"s":"116","t":3.8,"d":0.74,"r":0.02},{"s":"116","t":4.2,"d":0.73,"r":-0.01},{"s":"116","t":4.6,"d":0.78,"r":0.03},{"s":"116","t":5.0,"d":0.77,"r":0.01},{"s":"116","t":5.4,"d":0.75,"r":-0.02},{"s":"116","t":5.8,"d":0.81,"r":0.02},{"s":"116","t":6.2,"d":0.8,"r":0.0},{"s":"116","t":6.6,"d":0.85,"r":0.03},{"s":"116","t":7.0,"d":0.84,"r":0.01},{"s":"116","t":7.4,"d":0.84,"r":-0.01},{"s":"116","t":7.8,"d":0.89,"r":0.02},{"s":"116","t":8.2,"d":0.89,"r":0.0},{"s":"116","t":8.6,"d":0.92,"r":0.01},{"s":"116","t":9.0,"d":0.91,"r":-0.02},{"s":"116","t":9.4,"d":0.96,"r":0.01},{"s":"116","t":9.8,"d":0.95,"r":-0.03},{"s":"116","t":10.2,"d":1.01,"r":0.0},{"s":"116","t":10.6,"d":1.02,"r":-0.02},{"s":"116","t":11.0,"d":1.09,"r":0.02},{"s":"116","t":11.4,"d":1.06,"r":-0.04},{"s":"116","t":11.8,"d":1.12,"r":-0.01},{"s":"116","t":12.2,"d":1.14,"r":-0.03},{"s":"116","t":12.6,"d":1.16,"r":-0.05},{"s":"116","t":13.0,"d":1.23,"r":-0.02},{"s":"116","t":13.3,"d":1.21,"r":-0.07},{"s":"116","t":13.6,"d":1.28,"r":-0.04},{"s":"116","t":13.9,"d":1.27,"r":-0.08},{"s":"116","t":14.3,"d":1.35,"r":-0.05},{"s":"116","t":14.6,"d":1.35,"r":-0.09},{"s":"116","t":14.9,"d":1.46,"r":-0.03},{"s":"116","t":15.2,"d":1.54,"r":0.01},{"s":"116","t":15.5,"d":1.56,"r":-0.02},{"s":"116","t":15.8,"d":1.65,"r":0.03},{"s":"116","t":16.1,"d":1.66,"r":-0.01},{"s":"116","t":16.4,"d":1.75,"r":0.02},{"s":"116","t":16.8,"d":1.78,"r":-0.02},{"s":"116","t":17.2,"d":1.89,"r":0.01},{"s":"116","t":18.3,"d":2.1,"r":-0.02},{"s":"116","t":18.7,"d":2.24,"r":0.02},{"s":"116","t":19.1,"d":2.32,"r":-0.01},{"s":"116","t":19.5,"d":2.44,"r":0.0},{"s":"116","t":19.9,"d":2.53,"r":-0.03},{"s":"116","t":20.3,"d":2.71,"r":0.02},{"s":"116","t":20.7,"d":2.8,"r":-0.02},{"s":"116","t":21.1,"d":2.98,"r":0.01},{"s":"116","t":21.5,"d":3.08,"r":-0.04},{"s":"116","t":21.9,"d":3.3,"r":0.02},{"s":"116","t":22.5,"d":3.52,"r":-0.03},{"s":"116","t":22.9,"d":3.77,"r":0.03},{"s":"116","t":23.3,"d":3.92,"r":-0.02},{"s":"116","t":23.6,"d":4.11,"r":0.01},{"s":"116","t":24.0,"d":4.28,"r":-0.04},{"s":"116","t":24.4,"d":4.59,"r":0.03},{"s":"116","t":24.8,"d":4.77,"r":-0.05},{"s":"116","t":25.2,"d":5.15,"r":0.06},{"s":"116","t":25.6,"d":5.35,"r":-0.03},{"s":"116","t":26.0,"d":5.76,"r":0.08},{"s":"116","t":26.4,"d":5.95,"r":-0.06},{"s":"116","t":26.8,"d":6.4,"r":0.05},{"s":"116","t":27.2,"d":6.68,"r":-0.04},{"s":"116","t":27.6,"d":7.16,"r":0.04},
{"s":"116","t":0.5,"d":0.69,"r":0.03},{"s":"116","t":0.85,"d":0.71,"r":0.05},{"s":"116","t":1.2,"d":0.69,"r":0.02},{"s":"116","t":1.6,"d":0.72,"r":0.04},{"s":"116","t":2.0,"d":0.69,"r":0.01},{"s":"116","t":2.4,"d":0.73,"r":0.04},{"s":"116","t":2.8,"d":0.7,"r":0.0},{"s":"116","t":3.2,"d":0.74,"r":0.03},{"s":"116","t":3.6,"d":0.73,"r":0.01},{"s":"116","t":4.0,"d":0.75,"r":0.02},{"s":"116","t":4.4,"d":0.73,"r":-0.01},{"s":"116","t":4.8,"d":0.78,"r":0.02},{"s":"116","t":5.2,"d":0.77,"r":0.0},{"s":"116","t":5.6,"d":0.76,"r":-0.02},{"s":"116","t":6.0,"d":0.82,"r":0.02},{"s":"116","t":6.4,"d":0.81,"r":0.0},{"s":"116","t":6.8,"d":0.84,"r":0.02},{"s":"116","t":7.2,"d":0.83,"r":-0.01},{"s":"116","t":7.6,"d":0.87,"r":0.01},{"s":"116","t":8.0,"d":0.86,"r":-0.02},{"s":"116","t":8.4,"d":0.9,"r":0.0},{"s":"116","t":8.8,"d":0.94,"r":0.02},{"s":"116","t":9.2,"d":0.92,"r":-0.02},{"s":"116","t":9.6,"d":0.97,"r":0.01},{"s":"116","t":10.0,"d":0.96,"r":-0.03},{"s":"116","t":10.4,"d":1.02,"r":0.0},{"s":"116","t":10.8,"d":1.03,"r":-0.02},{"s":"116","t":11.2,"d":1.04,"r":-0.04},{"s":"116","t":11.6,"d":1.11,"r":-0.01},{"s":"116","t":12.0,"d":1.1,"r":-0.05},{"s":"116","t":12.4,"d":1.17,"r":-0.02},{"s":"116","t":12.8,"d":1.17,"r":-0.06},{"s":"116","t":13.15,"d":1.22,"r":-0.04},{"s":"116","t":13.45,"d":1.2,"r":-0.1},{"s":"116","t":13.75,"d":1.29,"r":-0.05},{"s":"116","t":14.1,"d":1.3,"r":-0.08},{"s":"116","t":14.45,"d":1.36,"r":-0.06},{"s":"116","t":14.75,"d":1.43,"r":-0.03},{"s":"116","t":15.05,"d":1.46,"r":-0.05},{"s":"116","t":15.35,"d":1.55,"r":-0.01},{"s":"116","t":15.65,"d":1.63,"r":0.03},{"s":"116","t":15.95,"d":1.62,"r":-0.02},{"s":"116","t":16.25,"d":1.71,"r":0.01},{"s":"116","t":16.6,"d":1.78,"r":0.02},{"s":"116","t":17.0,"d":1.82,"r":-0.02},{"s":"116","t":17.45,"d":1.94,"r":0.01},{"s":"116","t":18.1,"d":2.05,"r":-0.02},{"s":"116","t":18.5,"d":2.19,"r":0.02},{"s":"116","t":18.9,"d":2.27,"r":-0.01},{"s":"116","t":19.3,"d":2.35,"r":-0.03},{"s":"116","t":19.7,"d":2.51,"r":0.01},{"s":"116","t":20.1,"d":2.6,"r":-0.02},{"s":"116","t":20.5,"d":2.78,"r":0.02},{"s":"116","t":20.9,"d":2.87,"r":-0.03},{"s":"116","t":21.3,"d":3.05,"r":0.01},{"s":"116","t":21.7,"d":3.18,"r":-0.02},{"s":"116","t":22.2,"d":3.44,"r":0.02},
{"s":"116","t":1.2,"d":0.48,"r":-0.19},{"s":"116","t":3.3,"d":0.56,"r":-0.15},{"s":"116","t":3.7,"d":0.48,"r":-0.24},{"s":"116","t":3.9,"d":0.32,"r":-0.4},{"s":"116","t":4.05,"d":0.61,"r":-0.12},{"s":"116","t":4.15,"d":0.38,"r":-0.36},{"s":"116","t":4.7,"d":0.58,"r":-0.17},{"s":"116","t":6.95,"d":1.13,"r":0.3},{"s":"116","t":8.96,"d":1.24,"r":0.31},{"s":"116","t":9.15,"d":0.74,"r":-0.2},{"s":"116","t":10.65,"d":1.82,"r":0.78},{"s":"116","t":11.05,"d":1.29,"r":0.22},{"s":"116","t":11.55,"d":1.85,"r":0.75},{"s":"116","t":12.5,"d":2.0,"r":0.8},{"s":"116","t":14.34,"d":6.22,"r":4.82},{"s":"116","t":21.0,"d":2.81,"r":-0.12},{"s":"116","t":21.4,"d":2.97,"r":-0.11},{"s":"116","t":21.65,"d":3.01,"r":-0.17},{"s":"116","t":22.2,"d":3.3,"r":-0.11},{"s":"116","t":22.3,"d":3.53,"r":0.07},{"s":"116","t":23.6,"d":4.98,"r":0.88},{"s":"116","t":25.4,"d":5.34,"r":0.11},{"s":"116","t":25.7,"d":5.38,"r":-0.07},{"s":"116","t":26.4,"d":5.89,"r":-0.12},{"s":"116","t":26.45,"d":6.16,"r":0.12},{"s":"116","t":26.5,"d":6.27,"r":0.18},{"s":"116","t":27.0,"d":6.45,"r":-0.08},{"s":"116","t":27.2,"d":6.84,"r":0.12},{"s":"116","t":27.55,"d":6.97,"r":-0.1}
],
"fit": [
{"s":"111","t":0,"f":0.88},{"s":"111","t":2,"f":0.914},{"s":"111","t":4,"f":0.96},{"s":"111","t":6,"f":1.023},{"s":"111","t":8,"f":1.109},{"s":"111","t":10,"f":1.225},{"s":"111","t":12,"f":1.384},{"s":"111","t":14,"f":1.599},{"s":"111","t":16,"f":1.892},{"s":"111","t":18,"f":2.29},{"s":"111","t":20,"f":2.833},{"s":"111","t":21,"f":3.174},{"s":"111","t":22,"f":3.571},{"s":"111","t":23,"f":4.035},{"s":"111","t":24,"f":4.574},{"s":"111","t":25,"f":5.204},{"s":"111","t":26,"f":5.94},{"s":"111","t":27,"f":6.797},{"s":"111","t":28,"f":7.797},{"s":"111","t":29,"f":8.962},
{"s":"112","t":0,"f":-0.22},{"s":"112","t":2,"f":-0.191},{"s":"112","t":4,"f":-0.152},{"s":"112","t":6,"f":-0.097},{"s":"112","t":8,"f":-0.021},{"s":"112","t":10,"f":0.084},{"s":"112","t":12,"f":0.228},{"s":"112","t":14,"f":0.428},{"s":"112","t":16,"f":0.703},{"s":"112","t":18,"f":1.083},{"s":"112","t":20,"f":1.608},{"s":"112","t":21,"f":1.941},{"s":"112","t":22,"f":2.332},{"s":"112","t":23,"f":2.793},{"s":"112","t":24,"f":3.333},{"s":"112","t":25,"f":3.966},{"s":"112","t":26,"f":4.713},{"s":"112","t":27,"f":5.59},{"s":"112","t":28,"f":6.62},{"s":"112","t":29,"f":7.831},
{"s":"113","t":0,"f":1.25},{"s":"113","t":2,"f":1.282},{"s":"113","t":4,"f":1.326},{"s":"113","t":6,"f":1.385},{"s":"113","t":8,"f":1.466},{"s":"113","t":10,"f":1.577},{"s":"113","t":12,"f":1.727},{"s":"113","t":14,"f":1.93},{"s":"113","t":16,"f":2.207},{"s":"113","t":18,"f":2.584},{"s":"113","t":20,"f":3.098},{"s":"113","t":21,"f":3.42},{"s":"113","t":22,"f":3.796},{"s":"113","t":23,"f":4.234},{"s":"113","t":24,"f":4.744},{"s":"113","t":25,"f":5.341},{"s":"113","t":26,"f":6.036},{"s":"113","t":27,"f":6.847},{"s":"113","t":28,"f":7.793},{"s":"113","t":29,"f":8.896},
{"s":"114","t":0,"f":0.92},{"s":"114","t":2,"f":0.953},{"s":"114","t":4,"f":0.998},{"s":"114","t":6,"f":1.059},{"s":"114","t":8,"f":1.142},{"s":"114","t":10,"f":1.255},{"s":"114","t":12,"f":1.408},{"s":"114","t":14,"f":1.617},{"s":"114","t":16,"f":1.901},{"s":"114","t":18,"f":2.287},{"s":"114","t":20,"f":2.813},{"s":"114","t":21,"f":3.143},{"s":"114","t":22,"f":3.529},{"s":"114","t":23,"f":3.978},{"s":"114","t":24,"f":4.5},{"s":"114","t":25,"f":5.112},{"s":"114","t":26,"f":5.824},{"s":"114","t":27,"f":6.655},{"s":"114","t":28,"f":7.624},{"s":"114","t":29,"f":8.754},
{"s":"115","t":0,"f":0.95},{"s":"115","t":2,"f":0.983},{"s":"115","t":4,"f":1.029},{"s":"115","t":6,"f":1.091},{"s":"115","t":8,"f":1.175},{"s":"115","t":10,"f":1.29},{"s":"115","t":12,"f":1.446},{"s":"115","t":14,"f":1.658},{"s":"115","t":16,"f":1.946},{"s":"115","t":18,"f":2.338},{"s":"115","t":20,"f":2.872},{"s":"115","t":21,"f":3.207},{"s":"115","t":22,"f":3.599},{"s":"115","t":23,"f":4.055},{"s":"115","t":24,"f":4.585},{"s":"115","t":25,"f":5.206},{"s":"115","t":26,"f":5.929},{"s":"115","t":27,"f":6.773},{"s":"115","t":28,"f":7.757},{"s":"115","t":29,"f":8.904},
{"s":"116","t":0,"f":0.65},{"s":"116","t":2,"f":0.684},{"s":"116","t":4,"f":0.73},{"s":"116","t":6,"f":0.792},{"s":"116","t":8,"f":0.878},{"s":"116","t":10,"f":0.993},{"s":"116","t":12,"f":1.151},{"s":"116","t":14,"f":1.365},{"s":"116","t":16,"f":1.657},{"s":"116","t":18,"f":2.053},{"s":"116","t":20,"f":2.593},{"s":"116","t":21,"f":2.932},{"s":"116","t":22,"f":3.327},{"s":"116","t":23,"f":3.788},{"s":"116","t":24,"f":4.324},{"s":"116","t":25,"f":4.952},{"s":"116","t":26,"f":5.683},{"s":"116","t":27,"f":6.536},{"s":"116","t":28,"f":7.53},{"s":"116","t":29,"f":8.69}
]
},
"vconcat": [
{
"width": 837,
"height": 156,
"data": {"name": "pts"},
"mark": {"type": "circle", "size": 78, "opacity": 1, "clip": true},
"encoding": {
"x": {"field": "t", "type": "quantitative", "scale": {"domain": [0, 30], "nice": false, "zero": false}, "axis": {"values": [0, 5, 10, 15, 20, 25, 30], "labels": false, "title": null}},
"y": {"field": "r", "type": "quantitative", "scale": {"domain": [-0.5, 0.5], "nice": false, "zero": false}, "axis": {"values": [-0.5, 0, 0.5], "format": ".1f", "title": "delta_dark"}},
"color": {"field": "s", "type": "nominal", "scale": {"domain": ["111","112","113","114","115","116"], "range": ["#1f77b4","#ff7f0e","#2ca02c","#d62728","#9467bd","#8c564b"]}, "legend": null}
}
},
{
"width": 837,
"height": 468,
"layer": [
{
"data": {"name": "pts"},
"mark": {"type": "circle", "size": 78, "opacity": 1},
"encoding": {
"x": {"field": "t", "type": "quantitative", "scale": {"domain": [0, 30], "nice": false, "zero": false}, "axis": {"values": [0, 5, 10, 15, 20, 25, 30], "title": "g1 body temperature [C]", "titlePadding": 8}},
"y": {"field": "d", "type": "quantitative", "scale": {"domain": [-2.12, 9.4], "nice": false, "zero": false}, "axis": {"values": [-2, 0, 2, 4, 6, 8], "title": "dark_count [ADU]"}},
"color": {"field": "s", "type": "nominal", "scale": {"domain": ["111","112","113","114","115","116"], "range": ["#1f77b4","#ff7f0e","#2ca02c","#d62728","#9467bd","#8c564b"]}, "legend": {"title": null, "orient": "bottom-right", "offset": 11, "columns": 2}}
}
},
{
"data": {"name": "fit"},
"mark": {"type": "line", "strokeWidth": 2.2, "interpolate": "monotone"},
"encoding": {
"x": {"field": "t", "type": "quantitative"},
"y": {"field": "f", "type": "quantitative"},
"color": {"field": "s", "type": "nominal", "scale": {"domain": ["111","112","113","114","115","116"], "range": ["#1f77b4","#ff7f0e","#2ca02c","#d62728","#9467bd","#8c564b"]}, "legend": null}
}
}
],
"resolve": {"scale": {"color": "independent"}}
}
],
"spacing": 0,
"bounds": "flush",
"resolve": {"scale": {"color": "independent"}},
"config": {
"font": "DejaVu Sans",
"view": {"stroke": "black", "strokeWidth": 1.6},
"axis": {"domain": false, "grid": true, "gridColor": "#b0b0b0", "gridWidth": 1.6, "tickColor": "black", "tickWidth": 1.6, "tickSize": 9, "labelFont": "DejaVu Sans", "labelFontSize": 21, "labelColor": "black", "labelPadding": 8, "labelFlush": false, "titleFont": "DejaVu Sans", "titleFontSize": 22, "titleFontWeight": "normal", "titleColor": "black", "titlePadding": 12},
"legend": {"symbolType": "circle", "symbolSize": 68, "labelFont": "DejaVu Sans", "labelFontSize": 22, "labelColor": "black", "padding": 10, "rowPadding": 11, "columnPadding": 46, "symbolOffset": 12, "labelOffset": 30, "fillColor": "rgba(255,255,255,0.8)", "strokeColor": "#cccccc", "cornerRadius": 5}
}
}
